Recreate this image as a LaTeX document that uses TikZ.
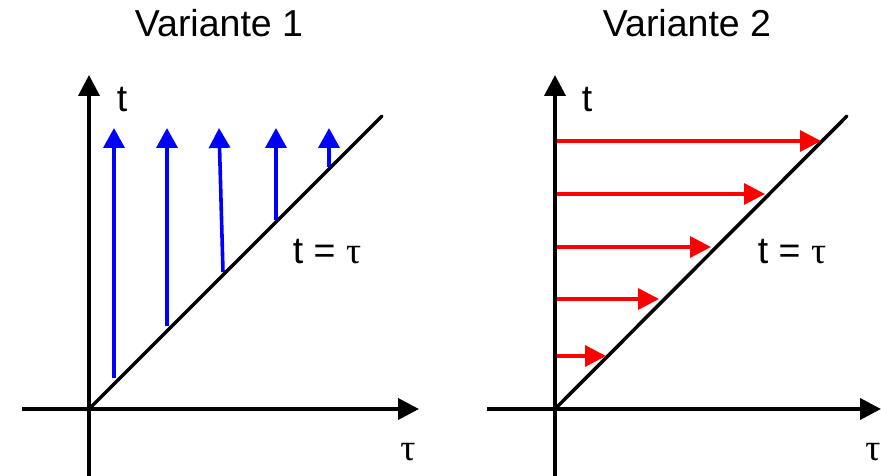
\documentclass[tikz,border=0pt]{standalone}
\usepackage{fontspec}
\setmainfont{Liberation Sans}
\newfontfamily\taufont{Liberation Serif}
\usepackage{tikz}
\usetikzlibrary{arrows.meta,calc}
\tikzset{>=stealth}

\begin{document}
\begin{tikzpicture}[
	x=1pt, y=-1pt,
	axis/.style={-{Triangle[length=21pt,width=21pt]}, line width=3.8pt, black},
	diag/.style={line width=3.5pt, black, line cap=round},
	vup/.style={-{Triangle[length=20pt,width=21pt]}, line width=3.6pt, blue},
	hright/.style={-{Triangle[length=21pt,width=21pt]}, line width=3.4pt, red},
	label/.style={font=\fontsize{37.5pt}{45pt}\selectfont, inner sep=0pt, anchor=base}
	]
	
	\useasboundingbox (0,0) rectangle (881,476);
	
	% Variante 1: axes
	\coordinate (o1) at (89,409);
	\coordinate (xl1) at (22,409);
	\coordinate (xr1) at (419,409);
	\coordinate (yb1) at (89,476);
	\coordinate (yt1) at (89,75);
	\coordinate (d1) at (382,116);
	\draw[line width=3.8pt] (xl1) -- (o1);
	\draw[axis] (o1) -- (xr1);
	\draw[line width=3.8pt] (yb1) -- (o1);
	\draw[axis] (o1) -- (yt1);
	\draw[diag] (o1) -- (d1);
	
	% Variante 1: vertical arrows from the diagonal
	\foreach \i/\xa/\ya/\xb in {1/114/378/114, 2/167/326/167, 3/223/272/219, 4/276/220/276, 5/329/167/329}{
		\coordinate (vs\i) at (\xa,\ya);
		\coordinate (ve\i) at (\xb,128);
		\draw[vup] (vs\i) -- (ve\i);
	}
	
	% Variante 1: labels
	\node[label] (title1) at (219,37) {Variante 1};
	\node[label] (tlab1) at (122,112) {t};
	\node[label] (diaglab1) at (327,263) {t = {\taufont τ}};
	\node[label] (taulab1) at (408,460) {\taufont τ};
	
	% Variante 2: axes
	\coordinate (o2) at (555,409);
	\coordinate (xl2) at (487,409);
	\coordinate (xr2) at (881,409);
	\coordinate (yb2) at (555,476);
	\coordinate (yt2) at (555,75);
	\coordinate (d2) at (847,116);
	\draw[line width=3.8pt] (xl2) -- (o2);
	\draw[axis] (o2) -- (xr2);
	\draw[line width=3.8pt] (yb2) -- (o2);
	\draw[axis] (o2) -- (yt2);
	\draw[diag] (o2) -- (d2);
	
	% Variante 2: horizontal arrows to the diagonal
	\foreach \i/\yy/\xe in {1/141/821, 2/194/765, 3/247/711, 4/299/659, 5/356/606}{
		\coordinate (hs\i) at (557,\yy);
		\coordinate (he\i) at (\xe,\yy);
		\draw[hright] (hs\i) -- (he\i);
	}
	
	% Variante 2: labels
	\node[label] (title2) at (687,37) {Variante 2};
	\node[label] (tlab2) at (587,112) {t};
	\node[label] (diaglab2) at (792,263) {t = {\taufont τ}};
	\node[label] (taulab2) at (873,460) {\taufont τ};
	
\end{tikzpicture}
\end{document}
